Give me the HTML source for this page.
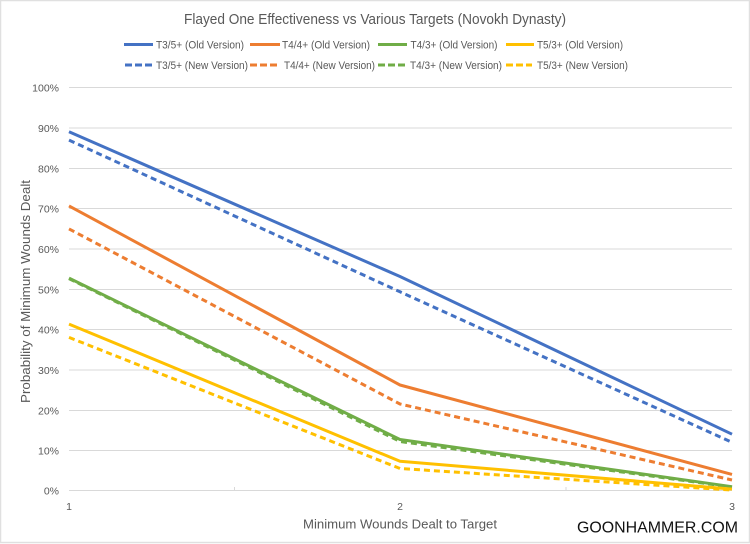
<!DOCTYPE html>
<html><head><meta charset="utf-8"><style>
html,body{margin:0;padding:0;background:#fff;}
svg{display:block;}
text{font-family:"Liberation Sans",sans-serif;fill:#595959;}
</style></head><body>
<svg width="750" height="544" viewBox="0 0 750 544" xmlns="http://www.w3.org/2000/svg">
<rect x="0.5" y="0.5" width="749" height="542" fill="#fff" stroke="#e0e0e0" stroke-width="1.5"/>
<text x="375" y="24" font-size="14.5" text-anchor="middle" textLength="382" lengthAdjust="spacingAndGlyphs">Flayed One Effectiveness vs Various Targets (Novokh Dynasty)</text>
<!-- legend -->
<g stroke-width="3" fill="none">
<line x1="124" y1="44.5" x2="153" y2="44.5" stroke="#4472C4"/>
<line x1="250" y1="44.5" x2="280" y2="44.5" stroke="#ED7D31"/>
<line x1="378" y1="44.5" x2="407" y2="44.5" stroke="#70AD47"/>
<line x1="506" y1="44.5" x2="534" y2="44.5" stroke="#FFC000"/>
<line x1="125" y1="65" x2="153" y2="65" stroke="#4472C4" stroke-dasharray="7 3"/>
<line x1="250" y1="65" x2="278" y2="65" stroke="#ED7D31" stroke-dasharray="7 3"/>
<line x1="378" y1="65" x2="407" y2="65" stroke="#70AD47" stroke-dasharray="7 3"/>
<line x1="506" y1="65" x2="532" y2="65" stroke="#FFC000" stroke-dasharray="7 3"/>
</g>
<g font-size="11">
<text x="156" y="48.5" textLength="88" lengthAdjust="spacingAndGlyphs">T3/5+ (Old Version)</text>
<text x="282" y="48.5" textLength="88" lengthAdjust="spacingAndGlyphs">T4/4+ (Old Version)</text>
<text x="410.5" y="48.5" textLength="87" lengthAdjust="spacingAndGlyphs">T4/3+ (Old Version)</text>
<text x="537" y="48.5" textLength="86" lengthAdjust="spacingAndGlyphs">T5/3+ (Old Version)</text>
<text x="156" y="69" textLength="92" lengthAdjust="spacingAndGlyphs">T3/5+ (New Version)</text>
<text x="284" y="69" textLength="91" lengthAdjust="spacingAndGlyphs">T4/4+ (New Version)</text>
<text x="410" y="69" textLength="92" lengthAdjust="spacingAndGlyphs">T4/3+ (New Version)</text>
<text x="537" y="69" textLength="91" lengthAdjust="spacingAndGlyphs">T5/3+ (New Version)</text>
</g>
<!-- gridlines -->
<g stroke="#d9d9d9" stroke-width="1">
<line x1="69" y1="87.5" x2="732" y2="87.5"/>
<line x1="69" y1="128" x2="732" y2="128"/>
<line x1="69" y1="168.5" x2="732" y2="168.5"/>
<line x1="69" y1="208.5" x2="732" y2="208.5"/>
<line x1="69" y1="249" x2="732" y2="249"/>
<line x1="69" y1="289.5" x2="732" y2="289.5"/>
<line x1="69" y1="329.5" x2="732" y2="329.5"/>
<line x1="69" y1="370" x2="732" y2="370"/>
<line x1="69" y1="410.5" x2="732" y2="410.5"/>
<line x1="69" y1="450.5" x2="732" y2="450.5"/>
<line x1="69" y1="490.5" x2="732" y2="490.5"/>
<line x1="234.5" y1="487" x2="234.5" y2="491"/>
<line x1="566" y1="487" x2="566" y2="491"/>
</g>
<!-- y labels -->
<g font-size="10.5" text-anchor="end">
<text x="59" y="91.5">100%</text>
<text x="59" y="132">90%</text>
<text x="59" y="172.5">80%</text>
<text x="59" y="212.5">70%</text>
<text x="59" y="253">60%</text>
<text x="59" y="293.5">50%</text>
<text x="59" y="333.5">40%</text>
<text x="59" y="374">30%</text>
<text x="59" y="414.5">20%</text>
<text x="59" y="454.5">10%</text>
<text x="59" y="494.5">0%</text>
</g>
<!-- x labels -->
<g font-size="10.5" text-anchor="middle">
<text x="69" y="510">1</text>
<text x="400" y="510">2</text>
<text x="732" y="510">3</text>
</g>
<text x="400" y="528.5" font-size="13" text-anchor="middle" textLength="194" lengthAdjust="spacingAndGlyphs">Minimum Wounds Dealt to Target</text>
<text transform="translate(30,291.5) rotate(-90)" font-size="13" text-anchor="middle" textLength="223" lengthAdjust="spacingAndGlyphs">Probability of Minimum Wounds Dealt</text>
<text x="577" y="532.3" font-size="16" textLength="161" lengthAdjust="spacingAndGlyphs" style="fill:#111;">GOONHAMMER.COM</text>
<!-- series -->
<g fill="none" stroke-width="3" stroke-linejoin="round">
<polyline points="69,278.6 400,441.5 732,487.1" stroke="#70AD47" stroke-dasharray="6 4"/>
<polyline points="69,131.7 400,276.5 732,434.2" stroke="#4472C4"/>
<polyline points="69,205.9 400,385 732,474.4" stroke="#ED7D31"/>
<polyline points="69,278.1 400,439.5 732,486.7" stroke="#70AD47"/>
<polyline points="69,324.1 400,461.3 732,489.1" stroke="#FFC000"/>
<polyline points="69,140.1 400,291.8 732,442.3" stroke="#4472C4" stroke-dasharray="6 4"/>
<polyline points="69,228.9 400,404 732,480" stroke="#ED7D31" stroke-dasharray="6 4"/>
<polyline points="69,337.4 400,468.5 732,490.1" stroke="#FFC000" stroke-dasharray="6 4"/>
</g>
</svg>
</body></html>
